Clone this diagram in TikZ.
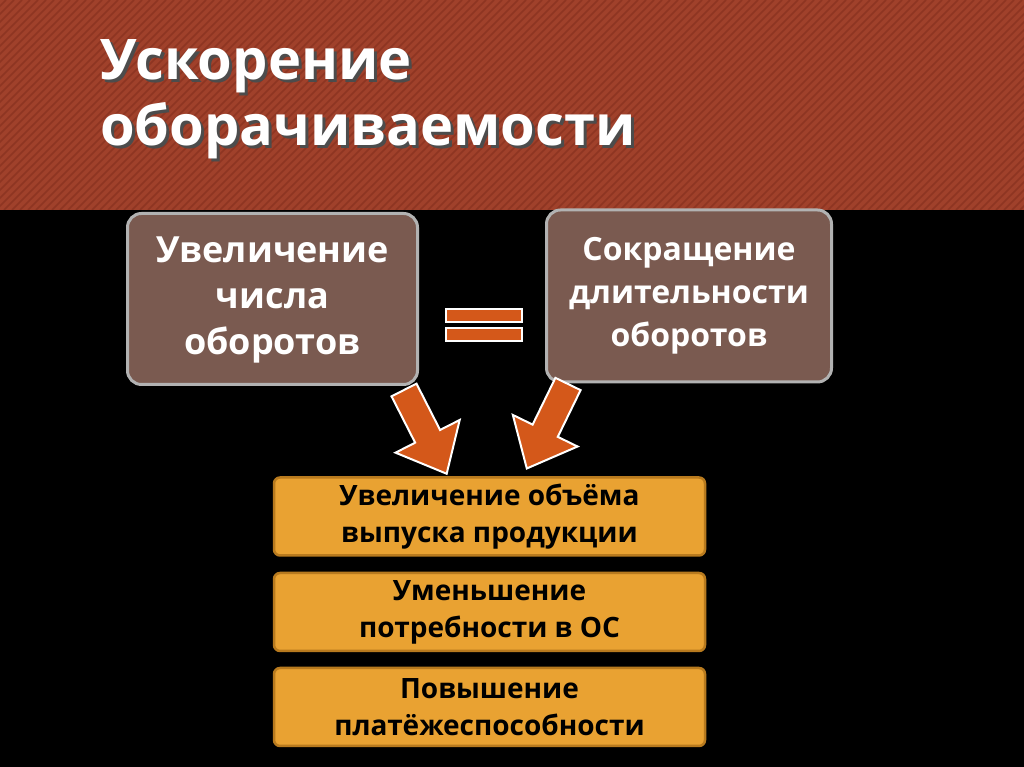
\documentclass[tikz,border=0pt]{standalone}
\usepackage{fontspec}
\setmainfont{Open Sans}
\definecolor{band}{HTML}{A0412B}
\definecolor{bandd}{HTML}{8E3522}
\definecolor{brownbox}{HTML}{7A5A50}
\definecolor{orng}{HTML}{D4581A}
\definecolor{yel}{HTML}{E9A232}
\definecolor{yeld}{HTML}{B87A1E}
\begin{document}
\begin{tikzpicture}[x=1pt,y=1pt,
  bbox/.style={draw=gray!60!white,line width=3pt,fill=brownbox,rounded corners=14pt,
    text=white,align=center,inner sep=0pt},
  ybox/.style={draw=yeld,line width=2.5pt,fill=yel,rounded corners=6pt,
    text=black,font=\bfseries\fontsize{28}{37}\selectfont,align=center,inner sep=0pt,
    minimum width=431pt,minimum height=78pt},
  bar/.style={draw=white,line width=2pt,fill=orng},
  barrow/.style={draw=white,line width=2pt,fill=orng}]
\fill[black] (0,0) rectangle (1024,767);
\fill[band] (0,557) rectangle (1024,767);
\begin{scope}
\clip (0,557) rectangle (1024,767);
\foreach \i in {-220,-212,...,1040}{\draw[bandd,line width=1.5pt] (\i,557)--++(210,210);}
\end{scope}
\node[anchor=north west,text=black!70,font=\bfseries\fontsize{56}{66}\selectfont,align=left,inner sep=0pt] at (103,725) {Ускорение\\оборачиваемости};
\node (title)[anchor=north west,text=white,font=\bfseries\fontsize{56}{66}\selectfont,align=left,inner sep=0pt] at (100,728) {Ускорение\\оборачиваемости};
\node (L)[bbox,minimum width=290pt,minimum height=171pt,font=\bfseries\fontsize{36}{50}\selectfont] at (272.5,468) {\raisebox{-6pt}{\begin{tabular}{@{}c@{}}Увеличение\\[-4pt]числа\\[-4pt]оборотов\end{tabular}}};
\node (R)[bbox,minimum width=285pt,minimum height=172pt,font=\bfseries\fontsize{32}{43}\selectfont] at (689,471) {Сокращение\\длительности\\оборотов};
\path[bar] (446,445) rectangle (522,458);
\path[bar] (446,426) rectangle (522,439);
\node (A)[ybox] at (489.5,250.5) {Увеличение объёма\\выпуска продукции};
\node (B)[ybox] at (489.5,155) {Уменьшение\\потребности в ОС};
\node (C)[ybox] at (489.5,60) {Повышение\\платёжеспособности};
\coordinate (a1) at (404,377);
\coordinate (a2) at (568,383);
\draw[barrow,shift={(a1)},rotate=-63] (0,-14)--(52,-14)--(52,-36)--(94,0)--(52,36)--(52,14)--(0,14)--cycle;
\draw[barrow,shift={(a2)},rotate=-116] (0,-14)--(52,-14)--(52,-36)--(94,0)--(52,36)--(52,14)--(0,14)--cycle;
\end{tikzpicture}
\end{document}
